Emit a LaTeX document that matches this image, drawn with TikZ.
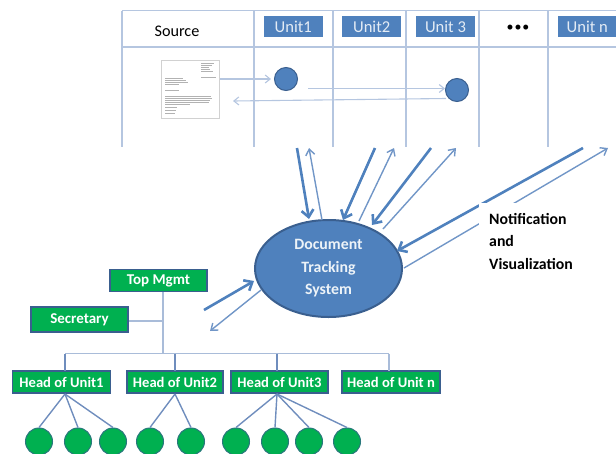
\documentclass[tikz,border=0pt]{standalone}
\usepackage{fontspec}
\setmainfont{Carlito}
\usetikzlibrary{shapes.geometric,arrows.meta}
\definecolor{bluefill}{HTML}{4F81BD}
\definecolor{blueedge}{HTML}{3A5F8F}
\definecolor{greenfill}{HTML}{00B050}
\definecolor{gridline}{HTML}{B5C6E0}
\definecolor{thinline}{HTML}{7F9FCB}
\definecolor{treeline}{HTML}{6F8DBD}
\definecolor{orgline}{HTML}{A9BCD9}
\tikzset{
  gridrule/.style={draw=gridline,line width=1.1pt},
  unitbox/.style={fill=bluefill,text=white!85!bluefill,minimum width=58.5pt,minimum height=21.5pt,inner sep=0pt,font=\fontsize{16.6}{18}\selectfont},
  token/.style={circle,fill=bluefill,draw=blueedge,line width=1pt,minimum size=23pt,inner sep=0pt},
  flowlight/.style={-{Straight Barb[length=5pt,width=8pt]},draw=gridline,line width=1.1pt},
  heavyflow/.style={draw=bluefill,line width=2.6pt,-{Straight Barb[length=7pt,width=12pt]}},
  lightflow/.style={draw=thinline!70!bluefill,line width=1.4pt,-{Straight Barb[length=6pt,width=9pt]}},
  greenbox/.style={fill=greenfill,draw=blueedge,line width=1.8pt,text=white,inner sep=0pt,minimum height=22pt,font=\bfseries\fontsize{14.6}{16}\selectfont},
  staff/.style={circle,fill=greenfill,draw=blueedge!70!greenfill,line width=1pt,minimum size=27pt,inner sep=0pt},
  orgrule/.style={draw=orgline,line width=1.4pt},
  treerule/.style={draw=treeline,line width=1.4pt},
  docline/.style={draw=black!30,line width=.3pt}
}
\begin{document}
\begin{tikzpicture}[x=1pt,y=-1pt]
\useasboundingbox (0,0) rectangle (616,453);
% table
\coordinate (tl) at (122,10.5); \coordinate (tr) at (616,10.5);
\coordinate (hl) at (122,47); \coordinate (hr) at (616,47);
\draw[gridrule] (tl) -- (tr);
\draw[gridrule] (hl) -- (hr);
\foreach \gx in {122,254,333,406,479,548}{
  \draw[gridrule] (\gx,10.5) -- (\gx,147);
}
\node[font=\fontsize{16.2}{18}\selectfont] (source) at (177,31) {Source};
\node[unitbox] (u1) at (293.3,26.7) {Unit1};
\node[unitbox] (u2) at (371.7,26.7) {Unit2};
\node[unitbox] (u3) at (445.5,26.7) {Unit 3};
\node[unitbox] (un) at (587.3,26.7) {Unit n};
\node[font=\fontsize{14}{16}\selectfont] (dots) at (518,28) {\textbullet\kern1pt\textbullet\kern1pt\textbullet};
% document
\node[draw=black!18,fill=white,minimum width=58pt,minimum height=58pt,inner sep=0pt] (doc) at (190.5,89) {};
\foreach \ly/\la/\lb in {63/201/214,65/201/212,67/201/209,69/201/210,71/201/213,77/201/216,
  78/165/183,80/165/186,82/165/188,84/165/179,90/165/179,
  96/165/211,98/165/212,100/165/210,102/165/209,104/165/190,
  107/165/177,110/165/176,113/165/175}{
  \draw[docline] (\la,\ly) -- (\lb,\ly);
}
% tokens
\node[token] (t1) at (286,79) {};
\node[token] (t3) at (457,90) {};
\coordinate (d1) at (220,79);
\coordinate (t1a) at (271,79);
\coordinate (f1) at (308,88.5);
\coordinate (f2) at (445,88.5);
\coordinate (b1) at (446,98.5);
\coordinate (b2) at (233,101);
\draw[flowlight] (d1) -- (t1a);
\draw[flowlight] (f1) -- (f2);
\draw[flowlight] (b1) -- (b2);
% central system
\node[ellipse,fill=bluefill,draw=blueedge,line width=2pt,minimum width=147pt,minimum height=97pt,inner sep=0pt,align=center,text=white!90!bluefill,font=\bfseries\fontsize{15.8}{22.5}\selectfont] (dts) at (328.5,268.5) {Document\\Tracking\\System};
\coordinate (a1) at (297,148); \coordinate (a1e) at (309,219);
\coordinate (a2) at (322,220); \coordinate (a2e) at (309,148);
\coordinate (a3) at (375,148); \coordinate (a3e) at (343,220);
\coordinate (a4) at (359,221); \coordinate (a4e) at (394,148);
\coordinate (a5) at (431,148); \coordinate (a5e) at (372,225);
\coordinate (a6) at (383,229); \coordinate (a6e) at (456,148);
\coordinate (a7) at (583,148); \coordinate (a7e) at (397,251);
\coordinate (a8) at (404,268); \coordinate (a8e) at (608,148);
\coordinate (a9) at (204,310); \coordinate (a9e) at (254,281);
\coordinate (a10) at (261,290); \coordinate (a10e) at (210,331);
\draw[heavyflow] (a1) -- (a1e);
\draw[lightflow] (a2) -- (a2e);
\draw[heavyflow] (a3) -- (a3e);
\draw[lightflow] (a4) -- (a4e);
\draw[heavyflow] (a5) -- (a5e);
\draw[lightflow] (a6) -- (a6e);
\draw[heavyflow] (a7) -- (a7e);
\draw[lightflow] (a8) -- (a8e);
\draw[heavyflow] (a9) -- (a9e);
\draw[lightflow] (a10) -- (a10e);
% label
\node[fill=white,anchor=north west,minimum width=102pt,minimum height=80pt,inner sep=0pt] (notebg) at (479,203) {};
\node[anchor=north west,inner sep=0pt,align=left,font=\bfseries\fontsize{15.8}{22.5}\selectfont] (note) at (489,213) {Notification\\and\\Visualization};
% org chart
\node[greenbox,minimum width=97pt,font=\bfseries\fontsize{15}{18}\selectfont] (top) at (158.5,280.5) {Top Mgmt};
\node[greenbox,minimum width=97pt,minimum height=25pt,font=\bfseries\fontsize{15}{18}\selectfont] (sec) at (79.5,319.5) {Secretary};
\node[greenbox,minimum width=98pt] (h1) at (61.5,382) {Head of Unit1};
\node[greenbox,minimum width=96pt] (h2) at (175,382) {Head of Unit2};
\node[greenbox,minimum width=97pt] (h3) at (279.5,382) {Head of Unit3};
\node[greenbox,minimum width=98pt] (hn) at (391,382) {Head of Unit n};
\coordinate (trunk) at (163,353.5);
\coordinate (secj) at (163,321);
\coordinate (topb) at (163,292);
\coordinate (busl) at (65,353.5);
\coordinate (busr) at (389,353.5);
\coordinate (h1t) at (65,371);
\coordinate (h2t) at (175,371);
\coordinate (h3t) at (277,371);
\coordinate (hnt) at (389,371);
\coordinate (h2j) at (175,353.5);
\coordinate (h3j) at (277,353.5);
\draw[orgrule] (topb) -- (trunk);
\draw[orgrule] (sec.east |- secj) -- (secj);
\draw[orgrule] (busl) -- (busr);
\draw[treerule] (busl) -- (h1t);
\draw[treerule] (h2j) -- (h2t);
\draw[treerule] (h3j) -- (h3t);
\draw[orgrule] (busr) -- (hnt);
% staff
\foreach \nm/\cx in {s1/39,s2/78,s3/113,s4/150,s5/191,s6/236,s7/275,s8/309,s9/347}{
  \node[staff] (\nm) at (\cx,441.5) {};
}
\coordinate (j1) at (65,394);
\coordinate (j2) at (175,394);
\coordinate (j3) at (277,394);
\draw[treerule] (j1) -- (s1.north);
\draw[treerule] (j1) -- (s2.north);
\draw[treerule] (j1) -- (s3.north);
\draw[treerule] (j2) -- (s4.north);
\draw[treerule] (j2) -- (s5.north);
\draw[treerule] (j3) -- (s6.north);
\draw[treerule] (j3) -- (s7.north);
\draw[treerule] (j3) -- (s8.north);
\draw[treerule] (j3) -- (s9.north);
\end{tikzpicture}
\end{document}
